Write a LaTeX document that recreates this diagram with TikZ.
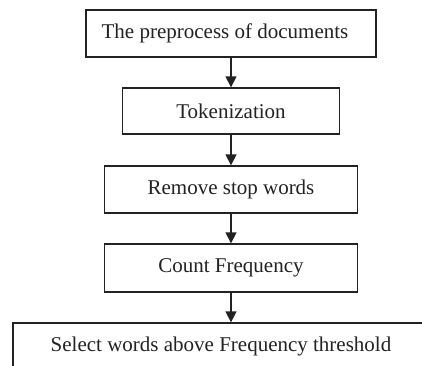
\documentclass[tikz,border=0pt]{standalone}
\usepackage{fontspec}
\setmainfont{Liberation Serif}
\usetikzlibrary{arrows.meta}
\definecolor{ink}{HTML}{222222}
\begin{document}
\begin{tikzpicture}[x=1pt,y=-1pt,
  box/.style={draw=ink,line width=1.3pt,text=ink,inner sep=0pt,
    font=\fontsize{21}{25}\selectfont},
  flow/.style={draw=ink,line width=1.3pt,-{Triangle[width=11pt,length=11pt]}}]
\useasboundingbox (0,0) rectangle (422,365);
\clip (0,0) rectangle (422,365);
\fill[white] (0,0) rectangle (422,365);
\node[box,minimum width=290pt,minimum height=47pt] (b1) at (231,33.5) {\hspace*{-12pt}The preprocess of documents};
\node[box,minimum width=217pt,minimum height=46pt] (b2) at (231,111) {Tokenization};
\node[box,minimum width=253pt,minimum height=47pt] (b3) at (231,189.5) {Remove stop words};
\node[box,minimum width=253pt,minimum height=48pt] (b4) at (231,268) {Count Frequency};
\node[box,minimum width=416pt,minimum height=47pt] (b5) at (221,346.5) {Select words above Frequency threshold};
\draw[flow] (b1.south) -- (b2.north);
\draw[flow] (b2.south) -- (b3.north);
\draw[flow] (b3.south) -- (b4.north);
\draw[flow] (b4.south) -- (b4.south |- b5.north);
\end{tikzpicture}
\end{document}
